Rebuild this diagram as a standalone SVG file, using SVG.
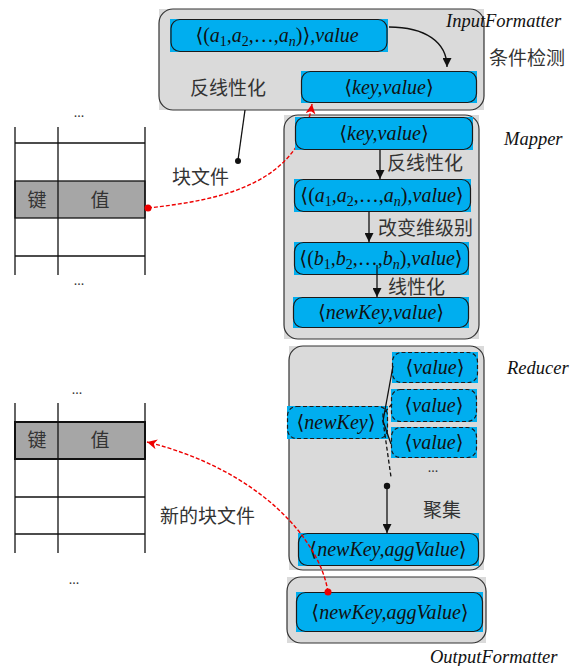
<svg xmlns="http://www.w3.org/2000/svg" width="571" height="666" viewBox="0 0 571 666">
<style>
.bg{fill:#dadada}
.c{fill:#dadada;stroke:#333;stroke-width:1.2}
.b{fill:#00aeef}
.bb{fill:#00aeef;stroke:#1a1a1a;stroke-width:1.2}
.dash{stroke-dasharray:4 2.5}
.m{font-family:"Liberation Serif","DejaVu Serif",serif;font-style:italic;font-size:20px;fill:#111;text-anchor:middle}
.lab{font-family:"Liberation Serif","DejaVu Serif",serif;font-style:italic;font-size:18.5px;fill:#111}
.u{font-style:normal}
.s{font-style:normal;font-size:14px}
.si{font-size:14px}
.zh{font-family:"Noto Sans CJK SC",sans-serif;font-size:19px;fill:#333}
.dots{font-family:"Liberation Serif",serif;font-size:14px;fill:#333;text-anchor:middle}
.ln{stroke:#111;stroke-width:1.3;fill:none}
.red{stroke:#e00;stroke-width:1.4;fill:none;stroke-dasharray:4 2}
.tl{stroke:#111;stroke-width:1.3}
</style>
<defs>
<marker id="ah" viewBox="0 0 10 10" refX="10" refY="5" markerWidth="9" markerHeight="9" markerUnits="userSpaceOnUse" orient="auto"><path d="M0,0L10,5L0,10z" fill="#111"/></marker>
<marker id="rah" viewBox="0 0 10 10" refX="10" refY="5" markerWidth="10" markerHeight="10" markerUnits="userSpaceOnUse" orient="auto"><path d="M0,0L10,5L0,10L3,5z" fill="#e00"/></marker>
<clipPath id="cut"><path clip-rule="evenodd" d="M0,0H571V666H0Z M295,117V150H473V117Z"/></clipPath>
</defs>
<rect width="571" height="666" fill="#fff"/>

<g id="table1">
<rect x="15" y="181" width="130" height="37" fill="#a6a6a6" stroke="#111" stroke-width="1.3"/>
<line class="tl" x1="15" y1="127" x2="15" y2="275"/>
<line class="tl" x1="58" y1="127" x2="58" y2="275"/>
<line class="tl" x1="145" y1="127" x2="145" y2="275"/>
<line class="tl" x1="15" y1="143" x2="145" y2="143"/>
<line class="tl" x1="15" y1="256" x2="145" y2="256"/>
<text class="zh" x="37" y="207" text-anchor="middle">键</text>
<text class="zh" x="100" y="207" text-anchor="middle">值</text>
<text class="dots" x="79" y="117">...</text>
<text class="dots" x="79" y="285">...</text>
</g>

<g id="table2">
<rect x="15" y="422" width="130" height="37" fill="#a6a6a6" stroke="#111" stroke-width="2"/>
<line class="tl" x1="15" y1="403" x2="15" y2="553"/>
<line class="tl" x1="58" y1="403" x2="58" y2="553"/>
<line class="tl" x1="145" y1="403" x2="145" y2="553"/>
<line class="tl" x1="15" y1="497" x2="145" y2="497"/>
<line class="tl" x1="15" y1="534" x2="145" y2="534"/>
<text class="zh" x="37" y="447" text-anchor="middle">键</text>
<text class="zh" x="100" y="447" text-anchor="middle">值</text>
<text class="dots" x="77" y="394">...</text>
<text class="dots" x="74" y="584">...</text>
</g>

<g id="inputformatter">
<rect class="bg" x="159" y="9" width="325" height="101"/>
<rect class="c" x="159" y="9" width="325" height="101" rx="14"/>
<rect class="b" x="170" y="19" width="218" height="33"/>
<rect class="bb" x="171" y="19.5" width="216" height="32" rx="9"/>
<text class="m" x="277" y="42"><tspan class="u">⟨(</tspan>a<tspan class="s" dy="4">1</tspan><tspan dy="-4">,a</tspan><tspan class="s" dy="4">2</tspan><tspan dy="-4" class="u">,…,</tspan>a<tspan class="si" dy="4">n</tspan><tspan dy="-4" class="u">)⟩</tspan>,value</text>
<rect class="b" x="301" y="71" width="176" height="32"/>
<rect class="bb" x="301.5" y="71.5" width="175" height="31" rx="9"/>
<text class="m" x="389" y="94"><tspan class="u">⟨</tspan>key,value<tspan class="u">⟩</tspan></text>
<text class="zh" x="190" y="95">反线性化</text>
<text class="lab" x="446" y="27">InputFormatter</text>
<text class="zh" x="489" y="65">条件检测</text>
</g>

<g id="mapper">
<rect class="bg" x="284" y="115" width="195" height="224"/>
<rect class="c" x="284" y="115" width="195" height="224" rx="14"/>
<text class="lab" x="504" y="145">Mapper</text>
<text class="zh" x="387" y="170">反线性化</text>
<text class="zh" x="378" y="235">改变维级别</text>
<text class="zh" x="388" y="294">线性化</text>
</g>

<g id="reducer">
<rect class="bg" x="289" y="346" width="195" height="224"/>
<rect class="c" x="289" y="346" width="195" height="224" rx="14"/>
<text class="lab" x="507" y="374">Reducer</text>
<text class="zh" x="423" y="517">聚集</text>
<text class="dots" x="433" y="472">...</text>
</g>

<g id="outputformatter">
<rect class="bg" x="287" y="577" width="199" height="66"/>
<rect class="c" x="287" y="577" width="199" height="66" rx="14"/>
<text class="lab" x="430" y="663">OutputFormatter</text>
</g>

<g id="block-file-label"><text class="zh" x="172" y="184">块文件</text></g>
<g id="new-block-file-label"><text class="zh" x="160" y="523">新的块文件</text></g>

<g id="m-keyvalue">
<rect class="b" x="295" y="117" width="178" height="33"/>
<rect class="bb" x="295.5" y="117.5" width="177" height="32" rx="9"/>
<text class="m" x="384" y="140"><tspan class="u">⟨</tspan>key,value<tspan class="u">⟩</tspan></text>
</g>
<g id="m-a">
<rect class="b" x="294" y="179" width="177" height="33"/>
<rect class="bb" x="294.5" y="179.5" width="176" height="32" rx="9"/>
<text class="m" x="382" y="202"><tspan class="u">⟨(</tspan>a<tspan class="s" dy="4">1</tspan><tspan dy="-4">,a</tspan><tspan class="s" dy="4">2</tspan><tspan dy="-4" class="u">,…,</tspan>a<tspan class="si" dy="4">n</tspan><tspan dy="-4" class="u">),</tspan>value<tspan class="u">⟩</tspan></text>
</g>
<g id="m-b">
<rect class="b" x="294" y="242" width="175" height="33"/>
<rect class="bb" x="294.5" y="242.5" width="174" height="32" rx="9"/>
<text class="m" x="381" y="265"><tspan class="u">⟨(</tspan>b<tspan class="s" dy="4">1</tspan><tspan dy="-4">,b</tspan><tspan class="s" dy="4">2</tspan><tspan dy="-4" class="u">,…,</tspan>b<tspan class="si" dy="4">n</tspan><tspan dy="-4" class="u">),</tspan>value<tspan class="u">⟩</tspan></text>
</g>
<g id="m-newkey">
<rect class="b" x="293" y="297" width="176" height="31"/>
<rect class="bb" x="293.5" y="297.5" width="175" height="30" rx="9"/>
<text class="m" x="381" y="319"><tspan class="u">⟨</tspan>newKey,value<tspan class="u">⟩</tspan></text>
</g>

<g id="r-newkey">
<rect class="b" x="287" y="406" width="101" height="33"/>
<rect class="bb dash" x="287.5" y="406.5" width="100" height="32" rx="9"/>
<text class="m" x="336" y="429"><tspan class="u">⟨</tspan>newKey<tspan class="u">⟩</tspan></text>
</g>
<g id="r-value1">
<rect class="b" x="392" y="352" width="86" height="31"/>
<rect class="bb dash" x="392.5" y="352.5" width="85" height="30" rx="9"/>
<text class="m" x="435" y="374"><tspan class="u">⟨</tspan>value<tspan class="u">⟩</tspan></text>
</g>
<g id="r-value2">
<rect class="b" x="391" y="389" width="86" height="33"/>
<rect class="bb dash" x="391.5" y="389.5" width="85" height="32" rx="9"/>
<text class="m" x="434" y="412"><tspan class="u">⟨</tspan>value<tspan class="u">⟩</tspan></text>
</g>
<g id="r-value3">
<rect class="b" x="391" y="427" width="86" height="31"/>
<rect class="bb dash" x="391.5" y="427.5" width="85" height="30" rx="9"/>
<text class="m" x="434" y="449"><tspan class="u">⟨</tspan>value<tspan class="u">⟩</tspan></text>
</g>
<g id="r-agg">
<rect class="b" x="298" y="533" width="181" height="33"/>
<rect class="bb" x="298.5" y="533.5" width="180" height="32" rx="9"/>
<text class="m" x="388" y="556"><tspan class="u">⟨</tspan>newKey,aggValue<tspan class="u">⟩</tspan></text>
</g>
<g id="o-agg">
<rect class="b" x="296" y="592" width="187" height="40"/>
<rect class="bb" x="296.5" y="592.5" width="186" height="39" rx="9"/>
<text class="m" x="390" y="619"><tspan class="u">⟨</tspan>newKey,aggValue<tspan class="u">⟩</tspan></text>
</g>

<g id="connectors">
<path class="ln" d="M389,27 C425,27 447,42 447,67" marker-end="url(#ah)"/>
<line class="ln" x1="245" y1="110" x2="238" y2="160"/>
<circle cx="238" cy="161" r="3" fill="#111"/>
<line class="ln" x1="380" y1="150" x2="380" y2="179" marker-end="url(#ah)"/>
<line class="ln" x1="369" y1="212" x2="369" y2="242" marker-end="url(#ah)"/>
<line class="ln" x1="377" y1="265" x2="377" y2="297" marker-end="url(#ah)"/>
<line class="ln" x1="383" y1="421" x2="393" y2="366"/>
<line class="ln" x1="383" y1="421" x2="391" y2="444"/>
<path class="ln dash" d="M392,404 L383,414 L383,421"/>
<line class="ln dash" x1="383" y1="421" x2="391" y2="477"/>
<circle cx="387" cy="486" r="3.2" fill="#111"/>
<line class="ln" x1="387" y1="486" x2="387" y2="533" marker-end="url(#ah)"/>
<path class="red" clip-path="url(#cut)" d="M148,208 C220,200 300,185 312,104" marker-end="url(#rah)"/>
<circle cx="148" cy="208" r="3.5" fill="#e00"/>
<path class="red" d="M328,592 C320,540 260,470 147,442" marker-end="url(#rah)"/>
<circle cx="328" cy="592" r="3.5" fill="#e00"/>
</g>
</svg>
